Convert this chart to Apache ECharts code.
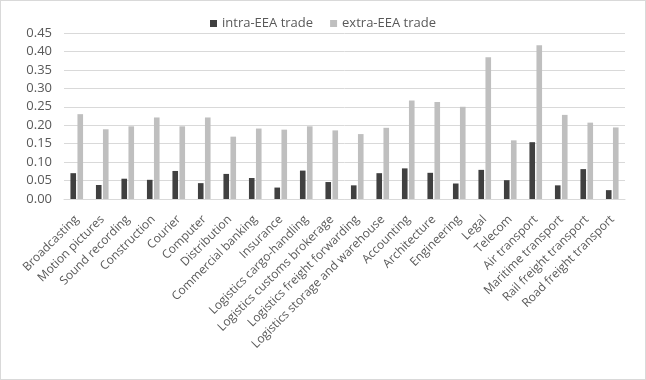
<!DOCTYPE html>
<html><head><meta charset="utf-8">
<script src="https://cdn.jsdelivr.net/npm/echarts@6/dist/echarts.min.js"></script>
<style>
html,body{margin:0;padding:0;background:#fff;}
#c{width:644px;height:378px;border:1px solid #d9d9d9;}
</style></head>
<body><div id="c"></div>
<script>
const categories = ["Broadcasting","Motion pictures","Sound recording","Construction","Courier","Computer","Distribution","Commercial banking","Insurance","Logistics cargo-handling","Logistics customs brokerage","Logistics freight forwarding","Logistics storage and warehouse","Accounting","Architecture","Engineering","Legal","Telecom","Air transport","Maritime transport","Rail freight transport","Road freight transport"];
const intraEEA = [0.070,0.038,0.055,0.052,0.076,0.043,0.068,0.057,0.031,0.077,0.046,0.037,0.070,0.083,0.071,0.042,0.079,0.051,0.154,0.037,0.081,0.024];
const extraEEA = [0.230,0.189,0.197,0.221,0.197,0.221,0.169,0.191,0.188,0.197,0.186,0.176,0.193,0.267,0.263,0.250,0.384,0.159,0.417,0.228,0.207,0.194];
const yTicks = {min:0, max:0.45, interval:0.05};

const chart = echarts.init(document.getElementById('c'));
const font = '"Open Sans", sans-serif';
chart.setOption({
  animation:false,
  textStyle:{fontFamily:font},
  legend:{top:11,left:'center',itemWidth:7,itemHeight:7,itemGap:17,icon:'rect',
    textStyle:{color:'#595959',fontSize:13,fontFamily:font},
    data:['intra-EEA trade','extra-EEA trade']},
  grid:{left:63,right:20,top:32,bottom:180},
  xAxis:{type:'category',data:categories,
    axisLine:{lineStyle:{color:'#d9d9d9'}},axisTick:{show:false},
    axisLabel:{rotate:45,interval:0,color:'#595959',fontSize:12,fontFamily:font,margin:10,
      align:'right',verticalAlign:'top',padding:[0,6,0,0]}},
  yAxis:{type:'value',min:yTicks.min,max:yTicks.max,interval:yTicks.interval,
    axisLabel:{formatter:v=>v.toFixed(2),color:'#595959',fontSize:13,fontFamily:font,margin:12},
    splitLine:{lineStyle:{color:'#d9d9d9'}},axisLine:{show:false},axisTick:{show:false}},
  series:[
    {name:'intra-EEA trade',type:'bar',data:intraEEA,itemStyle:{color:'#404040'},barWidth:'22%',barGap:'25%'},
    {name:'extra-EEA trade',type:'bar',data:extraEEA,itemStyle:{color:'#bfbfbf'},barWidth:'22%',barGap:'25%'}
  ]
});
</script></body></html>
